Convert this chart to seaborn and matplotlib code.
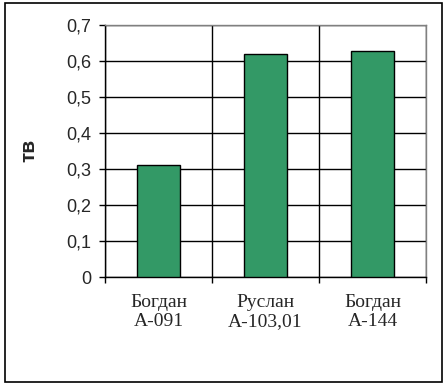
import matplotlib
matplotlib.use("Agg")
import matplotlib.pyplot as plt
import matplotlib.patches as mpatches
from matplotlib.ticker import FuncFormatter, FixedLocator
import seaborn as sns
import pandas as pd

categories = ["Богдан\nА-091", "Руслан\nА-103,01", "Богдан\nА-144"]
values = [0.31, 0.617, 0.626]
y_ticks = [0, 0.1, 0.2, 0.3, 0.4, 0.5, 0.6, 0.7]
y_label = "тв"

sns.set_style("white")
plt.rcParams["font.family"] = ["Liberation Sans", "DejaVu Sans"]

df = pd.DataFrame({"cat": categories, "val": values})

fig = plt.figure(figsize=(4.45, 3.89), dpi=100)
ax = fig.add_axes([105/445, 1-277/389, 321/445, (277-24.5)/389])

sns.barplot(data=df, x="cat", y="val", color="#339966", saturation=1,
            edgecolor="black", linewidth=1, width=0.4, ax=ax, zorder=3)

ax.set_xlim(-0.5, 2.5)
ax.set_ylim(0, 0.7)
ax.set_yticks(y_ticks)
ax.yaxis.set_major_formatter(FuncFormatter(lambda v, p: "0" if abs(v) < 1e-9 else f"{v:.1f}".replace(".", ",")))
ax.grid(axis="y", color="black", linewidth=1, zorder=0)
ax.xaxis.set_minor_locator(FixedLocator([-0.5, 0.5, 1.5, 2.5]))
ax.grid(axis="x", which="minor", color="black", linewidth=1, zorder=0)
ax.set_axisbelow(True)

ax.tick_params(axis="x", which="major", length=0, pad=12)
ax.tick_params(axis="x", which="minor", length=4, width=1, color="black", direction="out", bottom=True)
ax.tick_params(axis="y", length=4, width=1, color="black", direction="out", left=True, pad=6,
               labelsize=13)
for lab in ax.get_xticklabels():
    lab.set_fontfamily(["Liberation Serif", "DejaVu Serif"])
    lab.set_fontsize(14)
    lab.set_linespacing(1.2)

ax.set_xlabel("")
ax.set_ylabel(y_label, fontsize=15, fontweight="bold")
ax.yaxis.set_label_coords(-0.209, 0.5)

for s in ["left", "bottom"]:
    ax.spines[s].set_color("black")
    ax.spines[s].set_linewidth(1)
for s in ["top", "right"]:
    ax.spines[s].set_color("#808080")
    ax.spines[s].set_linewidth(1)
    ax.spines[s].set_visible(True)

fig.patches.append(mpatches.Rectangle((5/445, 1-382/389), 437/445, 379/389,
                                      transform=fig.transFigure, fill=False,
                                      edgecolor="black", linewidth=1.2))

fig.savefig("out.png", dpi=100)
